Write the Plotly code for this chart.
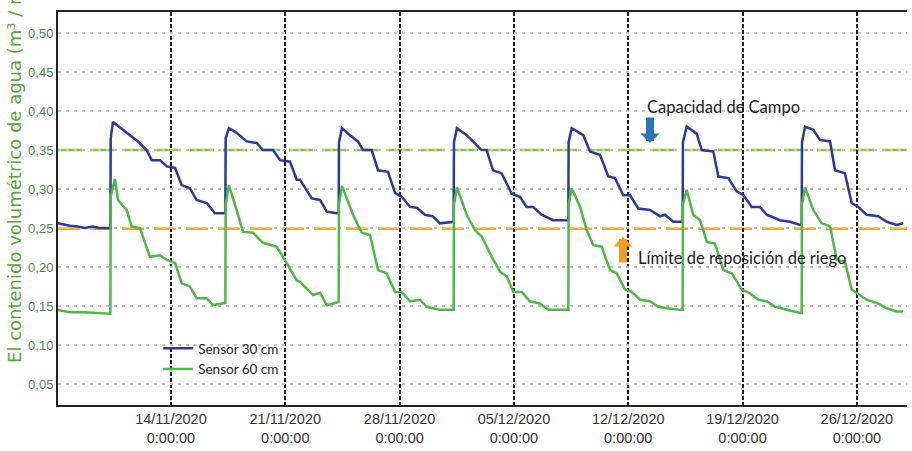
import pandas as pd
import plotly.graph_objects as go

BASE_DATE = "2020-11-01"

# Sensor 30 cm: time in days since BASE_DATE, volumetric water content
days_30 = [6.08, 6.8, 7.3, 7.73, 8.2, 8.6, 9.29, 9.31, 9.45, 10.29, 10.98, 11.51, 11.82, 12.33, 12.74, 13.25,
           13.66, 14.16, 14.57, 15.19, 15.69, 16.18, 16.33,
           16.35, 16.55, 17.02, 17.64, 18.25, 18.63, 19.25, 19.68, 20.29, 20.70, 20.90, 21.62, 22.13, 22.54,
           23.15, 23.27,
           23.29, 23.47, 23.96, 24.45, 24.76, 25.29, 25.68, 26.29, 26.72, 27.13, 27.64, 28.05, 28.55, 29.04,
           29.47, 30.27, 30.31,
           30.33, 30.51, 31.11, 31.49, 32.03, 32.33, 32.72, 33.25, 33.86, 34.37, 34.78, 35.17, 35.70, 36.39,
           37.23, 37.33,
           37.35, 37.54, 38.25, 38.66, 39.27, 39.78, 40.19, 40.70, 41.11, 41.62, 42.33, 42.95, 43.25, 43.76,
           44.27, 44.33,
           44.35, 44.58, 45.19, 45.50, 46.21, 46.52, 47.13, 47.64, 48.05, 48.56, 49.07, 49.48, 50.29, 50.91,
           51.52, 51.62,
           51.64, 51.83, 52.33, 52.74, 53.36, 53.66, 54.27, 54.68, 55.09, 55.60, 56.31, 56.83, 57.44, 57.84]
vwc_30 = [0.256, 0.253, 0.252, 0.250, 0.252, 0.250, 0.250, 0.365, 0.386, 0.372, 0.361, 0.350, 0.337, 0.337, 0.329, 0.327,
          0.305, 0.301, 0.286, 0.282, 0.269, 0.269, 0.269,
          0.365, 0.378, 0.372, 0.361, 0.359, 0.350, 0.350, 0.337, 0.335, 0.312, 0.312, 0.288, 0.286, 0.271,
          0.269, 0.269,
          0.360, 0.378, 0.369, 0.361, 0.350, 0.350, 0.324, 0.322, 0.295, 0.290, 0.277, 0.276, 0.267, 0.265,
          0.256, 0.258, 0.258,
          0.360, 0.378, 0.369, 0.361, 0.350, 0.350, 0.324, 0.320, 0.294, 0.290, 0.277, 0.277, 0.267, 0.260,
          0.260, 0.260,
          0.360, 0.378, 0.369, 0.348, 0.344, 0.316, 0.314, 0.292, 0.292, 0.275, 0.273, 0.265, 0.267, 0.258,
          0.258, 0.258,
          0.360, 0.380, 0.371, 0.350, 0.348, 0.316, 0.314, 0.297, 0.292, 0.277, 0.277, 0.267, 0.260, 0.258,
          0.254, 0.254,
          0.360, 0.380, 0.376, 0.363, 0.361, 0.324, 0.320, 0.282, 0.277, 0.267, 0.265, 0.258, 0.254, 0.256]

# Sensor 60 cm
days_60 = [6.08, 6.8, 7.7, 8.6, 9.29, 9.31, 9.57, 9.76, 10.29, 10.59, 11.10, 11.71, 12.33, 12.74, 13.25, 13.66,
           14.16, 14.57, 15.19, 15.57, 16.31, 16.33,
           16.35, 16.55, 17.02, 17.41, 18.02, 18.63, 19.47, 19.86, 20.70, 20.90, 21.70, 22.13, 22.54, 23.23, 23.27,
           23.29, 23.47, 24.15, 24.68, 25.19, 25.68, 26.21, 26.72, 27.13, 27.64, 28.25, 28.66, 29.47, 30.27, 30.31,
           30.33, 30.51, 31.11, 31.62, 32.03, 32.64, 33.15, 33.56, 33.96, 34.48, 34.98, 35.60, 36.11, 37.23, 37.33,
           37.35, 37.54, 38.05, 38.46, 38.86, 39.38, 39.88, 40.29, 40.80, 41.21, 41.72, 42.33, 42.84, 43.36, 44.17,
           44.33,
           44.35, 44.58, 44.98, 45.40, 45.81, 46.31, 46.82, 47.34, 47.95, 48.46, 48.97, 49.48, 49.99, 50.70, 51.52,
           51.62,
           51.64, 51.83, 52.33, 52.85, 53.36, 53.77, 54.27, 54.68, 55.19, 55.60, 56.31, 56.83, 57.44, 57.84]
vwc_60 = [0.145, 0.142, 0.142, 0.141, 0.140, 0.290, 0.313, 0.286, 0.273, 0.252, 0.250, 0.213, 0.215, 0.209, 0.205, 0.179,
          0.175, 0.160, 0.160, 0.151, 0.154, 0.154,
          0.280, 0.305, 0.273, 0.245, 0.244, 0.231, 0.226, 0.213, 0.183, 0.181, 0.164, 0.167, 0.151, 0.155, 0.155,
          0.280, 0.304, 0.267, 0.244, 0.241, 0.196, 0.192, 0.168, 0.168, 0.156, 0.158, 0.149, 0.145, 0.145, 0.145,
          0.280, 0.302, 0.267, 0.247, 0.239, 0.213, 0.194, 0.188, 0.168, 0.168, 0.156, 0.153, 0.145, 0.145, 0.145,
          0.280, 0.301, 0.277, 0.247, 0.228, 0.226, 0.196, 0.192, 0.171, 0.168, 0.158, 0.156, 0.149, 0.147, 0.145,
          0.145,
          0.280, 0.299, 0.267, 0.260, 0.232, 0.230, 0.196, 0.192, 0.171, 0.166, 0.158, 0.156, 0.149, 0.145, 0.141,
          0.141,
          0.280, 0.302, 0.273, 0.256, 0.252, 0.209, 0.207, 0.171, 0.164, 0.158, 0.153, 0.147, 0.143, 0.143]

capacidad_campo = 0.35
limite_riego = 0.249

tick_dates = ["2020-11-14", "2020-11-21", "2020-11-28", "2020-12-05", "2020-12-12", "2020-12-19", "2020-12-26"]
tick_labels = ["14/11/2020<br>0:00:00", "21/11/2020<br>0:00:00", "28/11/2020<br>0:00:00",
               "05/12/2020<br>0:00:00", "12/12/2020<br>0:00:00", "19/12/2020<br>0:00:00",
               "26/12/2020<br>0:00:00"]
y_ticks = [0.05, 0.10, 0.15, 0.20, 0.25, 0.30, 0.35, 0.40, 0.45, 0.50]
x_range = ["2020-11-07 02:00", "2020-12-29 01:40"]
y_range = [0.023, 0.527]

base = pd.Timestamp(BASE_DATE)
t30 = base + pd.to_timedelta(days_30, unit="D")
t60 = base + pd.to_timedelta(days_60, unit="D")

fig = go.Figure()
fig.add_trace(go.Scatter(x=t30, y=vwc_30, mode="lines", name="Sensor 30 cm",
                         line=dict(color="#2d3a96", width=2.5)))
fig.add_trace(go.Scatter(x=t60, y=vwc_60, mode="lines", name="Sensor 60 cm",
                         line=dict(color="#4fb848", width=2.5)))

fig.add_shape(type="line", xref="paper", x0=0, x1=1, yref="y", y0=capacidad_campo, y1=capacidad_campo,
              line=dict(color="#8cc63f", width=2.5, dash="24px,9px"), layer="between")
fig.add_shape(type="line", xref="paper", x0=0, x1=1, yref="y", y0=limite_riego, y1=limite_riego,
              line=dict(color="#f5a623", width=2.5, dash="22px,10px"), layer="between")

ann_font = dict(family="Lato, 'Open Sans', sans-serif", size=16.5, color="#222222")
fig.add_annotation(x="2020-12-13 01:00", y=0.405, text="Capacidad de Campo", showarrow=False,
                   xanchor="left", yanchor="middle", font=ann_font)
fig.add_annotation(x="2020-12-12 11:30", y=0.2115, text="Límite de reposición de riego", showarrow=False,
                   xanchor="left", yanchor="middle", font=ann_font)
fig.add_annotation(x="2020-12-13 08:00", y=0.359, text="", showarrow=True, ax=0, ay=-27,
                   arrowhead=1, arrowsize=0.4, arrowwidth=8, arrowcolor="#2e75b6")
fig.add_annotation(x="2020-12-11 16:20", y=0.2385, text="", showarrow=True, ax=0, ay=27,
                   arrowhead=1, arrowsize=0.4, arrowwidth=8, arrowcolor="#f0a020")

# y-axis title (clipped at the top edge, as in the original)
fig.add_annotation(xref="paper", yref="paper", x=-0.0506, y=0.102, xanchor="center", yanchor="bottom",
                   text="El contenido volumétrico de agua (m³ / m³)", textangle=-90, showarrow=False,
                   font=dict(family="DejaVu Sans, Verdana, sans-serif", size=18, color="#5aa53f"))

fig.update_layout(
    width=912, height=451,
    margin=dict(l=58, r=5, t=12, b=46, autoexpand=False),
    paper_bgcolor="white", plot_bgcolor="white",
    separators=",.",
    showlegend=True,
    legend=dict(x=0.118, y=0.183, xanchor="left", yanchor="top", bgcolor="rgba(0,0,0,0)",
                font=dict(family="Lato, 'Open Sans', sans-serif", size=13.5, color="#222222"),
                itemwidth=30, tracegroupgap=0),
    xaxis=dict(type="date", range=x_range, tickvals=tick_dates, ticktext=tick_labels,
               automargin=False,
               showgrid=True, gridcolor="#1a1a1a", gridwidth=2, griddash="4px,2px",
               showline=True, linecolor="#222222", linewidth=2, mirror=True, ticks="",
               ticklabelstandoff=0,
               tickfont=dict(family="Liberation Sans, Arial, sans-serif", size=14.5, color="#3a3232"),
               zeroline=False),
    yaxis=dict(range=y_range, tickvals=y_ticks, tickformat=".2f", automargin=False,
               showgrid=True, gridcolor="#c9c2c2", gridwidth=1.5, griddash="3px,5px",
               showline=True, linecolor="#222222", linewidth=2, ticks="",
               tickfont=dict(family="Liberation Sans, Arial, sans-serif", size=13, color="#4f8a50"),
               zeroline=False),
)

fig.write_html("out.html", config={"displayModeBar": False},
               post_script="document.body.style.margin='0';document.body.style.overflow='hidden';")
